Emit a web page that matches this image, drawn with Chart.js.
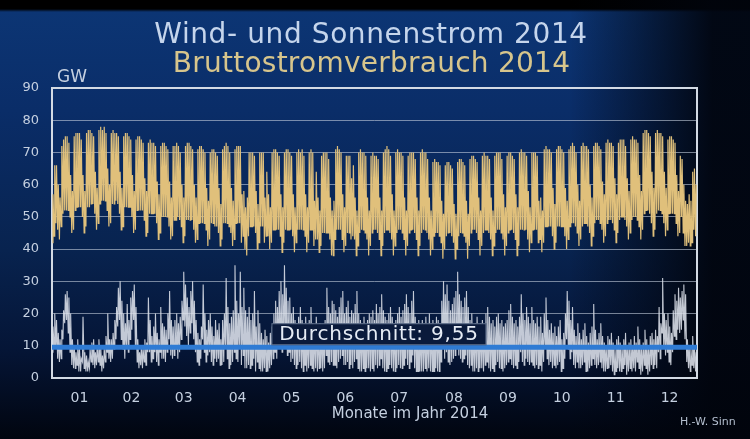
<!DOCTYPE html>
<html>
<head>
<meta charset="utf-8">
<script src="https://cdn.jsdelivr.net/npm/chart.js@4.4.1/dist/chart.umd.min.js"></script>
<style>
html, body { margin: 0; padding: 0; background: #000; }
#wrap {
    position: relative; width: 750px; height: 439px; overflow: hidden;
    background:
        linear-gradient(to right, rgba(0,0,0,0) 0%, rgba(0,0,0,0) 76%, rgba(1,4,12,0.92) 95%),
        linear-gradient(to bottom, #000 0px, #000 9px, #0c3574 12px, #0a2d68 110px, #08234f 250px, #051536 350px, #01050f 439px);
}
#myChart { position: absolute; left: 0; top: 0; }
.txt { position: absolute; font-family: "DejaVu Sans", sans-serif; white-space: nowrap; }
</style>
</head>
<body>
<div id="wrap">
    <canvas id="myChart" width="750" height="439"></canvas>
    <div class="txt" style="left:0;width:742px;text-align:center;top:20px;font-size:28px;line-height:28px;letter-spacing:0.6px;color:#c5d5ec;">Wind- und Sonnenstrom 2014</div>
    <div class="txt" style="left:0;width:743px;text-align:center;top:49px;font-size:28px;line-height:28px;letter-spacing:0.25px;color:#d7c58c;">Bruttostromverbrauch 2014</div>
    <div class="txt" style="left:57px;top:68px;font-size:17px;line-height:17px;color:#c5d0e0;">GW</div>
    <div class="txt" style="left:0;width:820px;text-align:center;top:406px;font-size:15px;line-height:15px;color:#c5d0e0;">Monate im Jahr 2014</div>
    <div class="txt" style="left:680px;top:416px;font-size:11px;line-height:11px;color:#b4bfcf;">H.-W. Sinn</div>
</div>
<script>
// Tageswerte 2014 (Tag 0 = Mi 01.01.), je Zeile eine Woche Mo-So
const consumptionMax = [
    57,66,66,60,56,
    72,74,75,75,73,63,58, 75,76,76,76,74,63,58, 76,77,77,76,75,64,59, 77,78,77,78,76,65,60,
    76,77,76,76,75,64,59, 75,76,76,75,74,63,58, 74,75,75,74,73,62,58, 73,74,73,73,72,61,57,
    72,73,73,72,71,61,56, 72,72,73,72,70,60,56, 72,73,73,72,71,60,56, 71,72,72,71,70,59,55,
    70,71,71,70,69,59,54, 71,72,73,72,70,59,55, 71,72,72,72,57,58,53, 56,70,70,70,69,58,54,
    70,70,70,56,64,57,53, 70,71,71,70,69,57,53, 70,71,71,70,69,57,53, 70,71,70,71,69,57,53,
    70,71,70,55,64,56,52, 69,70,70,70,68,56,52, 55,71,72,71,70,57,53, 69,69,69,62,66,56,52,
    70,71,70,70,69,56,52, 69,70,69,69,68,56,52, 70,71,72,71,69,57,52, 70,71,70,70,69,56,52,
    69,70,70,70,68,56,52, 70,71,70,70,68,56,52, 67,68,67,67,66,55,51, 66,67,67,66,65,54,51,
    67,68,68,67,66,55,51, 68,69,69,68,67,56,52, 69,70,69,69,68,56,52, 69,70,70,70,68,57,53,
    69,70,70,69,68,57,53, 70,71,70,70,69,58,53, 70,70,70,69,55,56,52, 71,72,71,71,70,59,54,
    71,72,72,71,70,59,55, 71,72,73,72,70,60,55, 72,73,72,72,71,60,56, 72,73,73,72,71,61,57,
    73,74,73,73,72,62,57, 73,74,74,74,72,62,58, 74,75,74,74,73,63,58, 76,77,77,76,75,64,59,
    76,77,76,76,75,64,59, 74,75,75,74,73,63,58, 69,68,60,55,54,57,55,
    64,65,60
];
const consumptionMin = [
    42,44,48,46,43,
    47,51,52,52,52,50,45, 46,52,53,53,53,50,45, 47,53,53,54,54,51,46, 48,54,55,55,55,52,47,
    48,54,54,55,54,51,46, 47,53,53,53,53,50,45, 46,52,52,52,52,49,44, 45,51,51,51,51,48,43,
    45,50,50,50,50,47,43, 44,49,49,50,49,47,42, 44,49,49,49,49,46,42, 43,48,48,48,48,46,41,
    43,48,48,47,47,45,41, 43,48,48,48,47,45,41, 43,48,48,48,42,44,40, 38,44,47,47,47,45,40,
    42,47,47,42,44,44,40, 42,46,46,46,46,44,39, 42,46,46,46,46,44,39, 42,46,46,46,46,44,39,
    42,46,46,41,43,43,39, 41,45,45,45,45,43,38, 38,43,46,46,46,43,39, 41,45,45,43,44,43,38,
    41,45,46,46,45,43,38, 41,45,46,46,45,43,38, 41,45,46,46,45,43,38, 41,45,46,46,45,43,38,
    41,45,46,46,45,43,38, 41,45,46,46,45,43,38, 40,44,45,45,44,42,37, 40,44,45,45,44,42,37,
    40,44,45,45,44,42,37, 41,45,46,46,45,43,38, 41,45,46,46,45,43,38, 41,45,46,46,45,43,38,
    41,45,46,46,45,43,38, 41,46,46,46,46,43,39, 42,46,46,46,42,43,39, 42,47,47,47,47,44,40,
    42,47,47,47,47,44,40, 43,47,48,48,47,45,41, 43,47,48,48,47,45,41, 44,48,49,49,48,46,42,
    44,48,49,49,48,46,42, 45,49,50,50,49,47,43, 45,49,50,50,49,47,43, 46,51,52,52,51,48,44,
    46,51,52,52,51,48,44, 46,51,51,51,51,48,44, 45,50,45,41,41,42,41,
    42,46,44
];
const renewMax = [
    16,20,18,14,12,
    15,21,26,27,25,20,12, 10,8,12,9,6,19,8, 7,5,9,11,12,8,10, 12,10,7,9,13,20,12,
    12,14,18,22,28,30,24, 20,17,23,18,25,27,29, 22,12,8,10,9,12,11, 25,18,13,16,20,14,12,
    22,17,16,15,20,27,18, 16,18,20,17,19,24,33, 29,25,22,27,30,24,18, 14,12,16,29,20,15,18,
    20,16,13,18,15,17,12, 18,20,31,22,17,19,21, 35,24,20,33,22,28,21, 19,22,18,20,27,16,21,
    17,14,12,15,13,11,14, 16,20,24,22,27,30,26, 35,28,24,25,20,22,18, 17,19,22,18,16,19,15,
    18,22,17,16,19,15,17, 16,15,18,28,22,20,24, 23,21,19,22,25,27,20, 22,24,19,21,20,23,27,
    20,18,17,19,16,18,20, 19,21,18,23,20,22,26, 21,19,18,20,22,19,17, 18,20,22,19,21,23,26,
    22,20,24,27,19,17,18, 16,18,17,19,16,20,17, 18,16,19,18,17,24,30, 26,29,24,21,23,25,27,
    33,26,24,22,25,27,22, 18,20,16,17,19,15,17, 18,16,20,22,19,17,18, 16,19,20,17,18,16,17,
    18,21,23,19,17,18,16, 19,26,20,18,22,19,17, 22,18,17,19,16,19,14, 20,25,18,15,17,14,16,
    13,16,18,12,14,20,27, 24,18,22,15,13,17,14, 12,15,17,13,11,14,16, 23,15,12,14,17,13,11,
    10,13,12,14,11,9,12, 13,11,10,12,14,9,11, 12,10,13,11,16,12,9, 11,15,12,9,13,14,12,
    15,13,22,17,31,20,18, 20,16,14,21,26,24,28, 25,27,29,26,12,10,9,
    13,10,8
];
const renewMin = [
    8,10,9,6,5,
    6,12,17,18,14,8,4, 3,3,4,2,2,5,3, 2,2,3,5,4,3,4, 5,4,2,3,5,8,6,
    5,6,9,12,16,18,12, 9,6,10,8,12,15,18, 10,5,3,4,3,5,4, 8,8,5,6,8,5,4,
    8,6,6,5,8,12,7, 6,7,9,6,8,12,18, 16,13,10,14,17,12,8, 5,4,6,12,8,5,7,
    8,5,4,6,5,6,4, 4,5,10,6,3,4,5, 8,6,5,10,4,7,3, 3,4,3,4,6,2,5,
    3,2,2,3,2,2,3, 4,6,8,6,9,12,8, 12,9,7,8,5,6,4, 3,4,5,3,2,4,2,
    3,4,3,2,3,2,3, 3,2,3,7,5,4,5, 4,4,3,5,6,7,4, 4,5,3,4,3,5,6,
    3,2,2,3,2,3,3, 2,3,2,4,3,4,6, 3,2,2,3,4,3,2, 2,3,4,3,3,4,6,
    4,3,5,7,3,2,2, 2,2,2,3,2,3,2, 2,2,3,2,2,5,9, 6,8,5,4,5,6,7,
    10,7,6,5,6,7,4, 3,4,2,2,3,2,3, 3,2,4,5,3,2,3, 2,4,5,3,3,2,3,
    4,5,6,4,3,4,3, 5,8,5,4,6,5,4, 5,4,3,4,3,4,2, 5,10,6,4,5,3,4,
    3,4,5,2,3,6,12, 9,6,8,4,3,5,3, 3,4,5,2,2,3,4, 6,4,3,4,5,3,2,
    2,3,3,4,2,1,2, 3,2,2,3,4,1,2, 3,2,3,2,5,3,1, 2,4,3,1,2,4,3,
    4,3,8,6,14,9,7, 8,5,4,8,13,12,15, 14,15,18,12,5,3,2,
    4,3,2
];
const avgValue = 9.55;
const avgLabel = 'Durchschnitt: 9,55';
const labelDay = 185;
const monthLabels = ['01','02','03','04','05','06','07','08','09','10','11','12'];
const monthDays = [31,28,31,30,31,30,31,31,30,31,30,31];

// Monatsmitten fuer die Achsenbeschriftung
const monthMid = [];
let start = 0;
monthDays.forEach(n => { monthMid.push(start + n / 2); start += n; });

// Nachttief und Tageshoch je Tag als Zickzack
function zigzag(lows, highs) {
    const pts = [];
    lows.forEach((lo, d) => {
        pts.push({ x: d + 0.2, y: lo });
        pts.push({ x: d + 0.55, y: highs[d] });
    });
    return pts;
}

const boxPlugin = {
    id: 'plotBox',
    beforeDatasetsDraw(chart) {
        const a = chart.chartArea, ctx = chart.ctx;
        ctx.save();
        ctx.strokeStyle = '#d3dae4';
        ctx.lineWidth = 2;
        ctx.strokeRect(a.left, a.top, a.right - a.left, a.bottom - a.top);
        ctx.restore();
    },
    afterDatasetsDraw(chart) {
        const ctx = chart.ctx;
        const y = chart.scales.y.getPixelForValue(avgValue);
        const cx = chart.scales.x.getPixelForValue(labelDay);
        const w = 215, h = 22;
        ctx.save();
        ctx.fillStyle = '#0a1a3b';
        ctx.fillRect(cx - w / 2, y - 2 - h, w, h);
        ctx.strokeStyle = 'rgba(170,185,210,0.55)';
        ctx.lineWidth = 1;
        ctx.strokeRect(cx - w / 2 + 0.5, y - 2 - h + 0.5, w - 1, h - 1);
        ctx.fillStyle = '#e6ecf5';
        ctx.font = '20px "DejaVu Sans"';
        ctx.letterSpacing = '0.8px';
        ctx.textAlign = 'center';
        ctx.textBaseline = 'middle';
        ctx.fillText(avgLabel, cx, y - 2 - h / 2 + 1);
        ctx.restore();
    }
};

const ctx = document.getElementById('myChart').getContext('2d');
const chart = new Chart(ctx, {
    type: 'line',
    data: {
        datasets: [
            {
                label: 'Bruttostromverbrauch 2014',
                data: zigzag(consumptionMin, consumptionMax),
                borderColor: '#e0c07b',
                borderWidth: 1.2,
                pointRadius: 0,
                order: 3
            },
            {
                label: 'Wind- und Sonnenstrom 2014',
                data: zigzag(renewMin, renewMax),
                borderColor: 'rgba(222,227,236,0.88)',
                borderWidth: 1.1,
                pointRadius: 0,
                order: 2
            },
            {
                label: 'Durchschnitt',
                data: [{ x: 0, y: avgValue }, { x: 365, y: avgValue }],
                borderColor: '#2f7bd4',
                borderWidth: 5,
                pointRadius: 0,
                order: 1
            }
        ]
    },
    options: {
        responsive: false,
        animation: false,
        events: [],
        devicePixelRatio: 1,
        layout: { padding: { top: 88, right: 53, left: 0, bottom: 0 } },
        plugins: { legend: { display: false }, tooltip: { enabled: false } },
        scales: {
            x: {
                type: 'linear',
                min: 0,
                max: 365,
                afterBuildTicks: scale => { scale.ticks = monthMid.map(v => ({ value: v })); },
                afterFit: scale => { scale.height = 61; },
                grid: { display: false, drawTicks: false },
                border: { display: false },
                ticks: {
                    autoSkip: false,
                    maxRotation: 0,
                    padding: 12,
                    color: '#c5d0e0',
                    font: { family: 'DejaVu Sans', size: 14 },
                    callback: (v, i) => monthLabels[i]
                }
            },
            y: {
                min: 0,
                max: 90,
                afterFit: scale => { scale.width = 52; },
                grid: { color: 'rgba(195,205,220,0.6)', lineWidth: 1, drawTicks: false },
                border: { display: false },
                ticks: {
                    stepSize: 10,
                    padding: 13,
                    color: '#c5d0e0',
                    font: { family: 'DejaVu Sans', size: 13 }
                }
            }
        }
    },
    plugins: [boxPlugin]
});
</script>
</body>
</html>
